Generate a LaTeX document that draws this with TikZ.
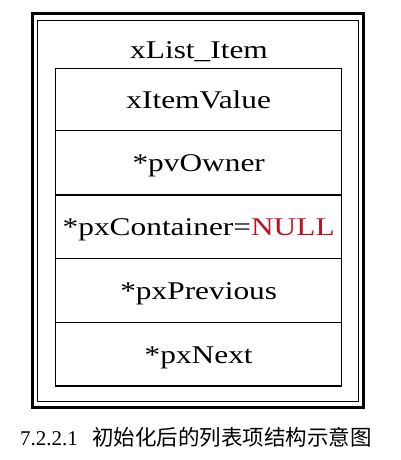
\documentclass[tikz,border=0pt]{standalone}
\usepackage{fontspec}
\setmainfont{Liberation Serif}[FakeStretch=1.23]
\newfontfamily\capfont{Liberation Serif}
\newfontfamily\cjk{Noto Sans CJK SC}
\definecolor{nullred}{RGB}{192,16,32}
\tikzset{
  frameouter/.style={draw, line width=3pt, inner sep=0pt},
  frameinner/.style={draw, line width=1.5pt, inner sep=0pt},
  rowbox/.style={draw, line width=1.5pt, inner sep=0pt, minimum width=286pt},
  rowtext/.style={anchor=base, inner sep=0pt, font=\fontsize{25.5}{30}\selectfont},
}
\begin{document}
\begin{tikzpicture}[x=1pt,y=-1pt]
\useasboundingbox (0,0) rectangle (400,460);
\node[frameouter, minimum width=331pt, minimum height=393pt] (outer) at (197.5,210.5) {};
\node[frameinner, minimum width=321pt, minimum height=381pt] (inner) at (198,211) {};
\node[rowtext] (title) at (199,58.3) {xList\_Item};
\node[rowbox, minimum height=62.4pt] (r1) at (198.7,99.5) {};
\node[rowbox, minimum height=64.3pt] (r2) at (198.7,162.85) {};
\node[rowbox, minimum height=63.3pt] (r3) at (198.7,226.65) {};
\node[rowbox, minimum height=64.4pt] (r4) at (198.7,290.5) {};
\node[rowbox, minimum height=63.3pt] (r5) at (198.7,354.35) {};
\node[rowtext] (t1) at ([yshift=-9pt]r1.center) {xItemValue};
\node[rowtext] (t2) at ([yshift=-9pt]r2.center) {*pvOwner};
\node[rowtext] (t3) at ([yshift=-9pt]r3.center) {*pxContainer=\textcolor{nullred}{NULL}};
\node[rowtext] (t4) at ([yshift=-9pt]r4.center) {*pxPrevious};
\node[rowtext] (t5) at ([yshift=-9pt]r5.center) {*pxNext};
\node[anchor=base west, inner sep=0pt, font=\capfont\fontsize{21}{24}\selectfont] (capnum) at (20,445.5) {7.2.2.1};
\node[anchor=base west, inner sep=0pt, font=\cjk\fontsize{21.5}{26}\selectfont] (captxt) at (92,445.5) {初始化后的列表项结构示意图};
\end{tikzpicture}
\end{document}
